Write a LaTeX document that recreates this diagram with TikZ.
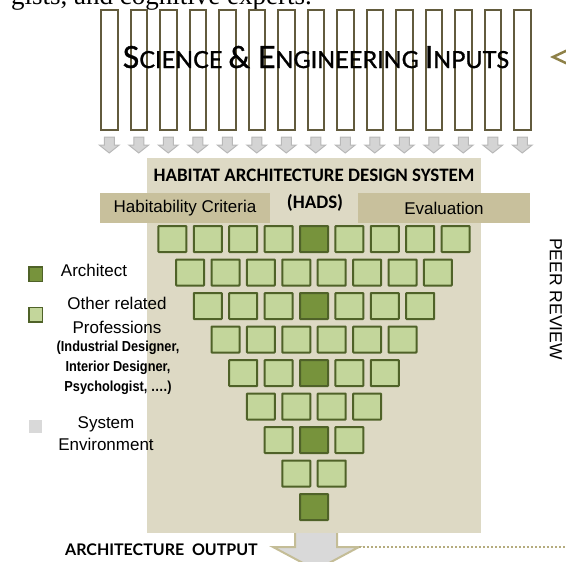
\documentclass[tikz,border=0pt]{standalone}
\usepackage{fontspec}
\usepackage{graphicx}
\setmainfont{Liberation Sans}
\newfontfamily\calibfont{Carlito}
\newfontfamily\latofont{Lato}
\newfontfamily\latoheavy[FakeBold=1.2]{Lato}
\newfontfamily\timesfont{Liberation Serif}
\definecolor{barcol}{HTML}{625B3D}
\definecolor{arrfill}{HTML}{D4D4D4}
\definecolor{arrdraw}{HTML}{B8B8B8}
\definecolor{beigecol}{HTML}{DDD9C4}
\definecolor{bandcol}{HTML}{C8C09C}
\definecolor{sqlightcol}{HTML}{C3D69B}
\definecolor{sqborder}{HTML}{4F6228}
\definecolor{sqdarkcol}{HTML}{77933C}
\definecolor{bigarrfill}{HTML}{D9D9D9}
\definecolor{bigarrdraw}{HTML}{C4BD97}
\definecolor{dotcol}{HTML}{B5AC7E}
\definecolor{olivecol}{HTML}{8E8148}
\definecolor{envcol}{HTML}{D9D9D9}
\newcommand\scBig{\fontsize{30.5}{33}\selectfont}
\newcommand\scSmall{\fontsize{23.5}{26}\selectfont}
\tikzset{
  barbox/.style={draw=barcol, fill=white, line width=2pt, minimum width=16.5pt, minimum height=120pt, inner sep=0pt},
  smallarrow/.style={fill=arrfill, draw=arrdraw, line width=1pt, line join=miter},
  lightsq/.style={draw=sqborder, fill=sqlightcol, line width=2pt, minimum width=28pt, minimum height=26pt, inner sep=0pt, rounded corners=0.6pt},
  darksq/.style={lightsq, fill=sqdarkcol},
  beigebox/.style={fill=beigecol, minimum width=334pt, minimum height=375pt, inner sep=0pt},
  bandbox/.style={fill=bandcol, minimum height=30pt, inner sep=0pt},
  legsq/.style={draw=sqborder, line width=1.5pt, minimum width=13.5pt, minimum height=14.5pt, inner sep=0pt},
  legtext/.style={font=\fontsize{17}{24}\selectfont, align=center, inner sep=0pt},
}
\begin{document}
\begin{tikzpicture}[x=1pt,y=-1pt]
\useasboundingbox (0,0) rectangle (566,562);
\clip (0,0) rectangle (566,562);
% cut text at top
\node[anchor=base west, inner sep=0pt, font=\timesfont\fontsize{27}{30}\selectfont] (toptext) at (11,5) {gists, and cognitive experts.};
% input bars
\foreach \i in {0,...,14}{
  \node[barbox] (bar\i) at (109.25+29.5*\i,70) {};
}
\foreach \i in {0,...,14}{
  \begin{scope}[shift={(bar\i.south)}]
  \draw[smallarrow] (-5,6) -- (5,6) -- (5,14) -- (10,14) -- (0,22) -- (-10,14) -- (-5,14) -- cycle;
  \end{scope}
}
\node[anchor=base, inner sep=0pt, font=\latoheavy] (sci) at (316,68) {\scBig S\scSmall CIENCE \scBig\& E\scSmall NGINEERING \scBig I\scSmall NPUTS};
% olive arrowhead at right
\coordinate (olv) at (553,57);
\draw[olivecol, line width=2.5pt, fill=white, line join=miter] (olv) -- ++(17,-8) -- ++(0,16) -- cycle;
% big output arrow (behind box)
\coordinate (outtop) at (316,528);
\draw[fill=bigarrfill, draw=bigarrdraw, line width=2pt, line join=miter]
  (outtop) ++(-21,0) -- ++(0,19) -- ++(-22,0) -- ++(43,23) -- ++(43,-23) -- ++(-22,0) -- ++(0,-19);
% main box
\node[beigebox] (hadsbox) at (314,345.5) {};
\node[bandbox, minimum width=170pt] (habband) at (185,208) {};
\node[bandbox, minimum width=172pt] (evalband) at (444,208) {};
\node[inner sep=0pt, font=\fontsize{17}{20}\selectfont] (habtext) at (habband.center) {Habitability Criteria};
\node[inner sep=0pt, font=\fontsize{17}{20}\selectfont] (evaltext) at (evalband.center) {Evaluation};
\node[inner sep=0pt, font=\calibfont\bfseries\fontsize{19}{22}\selectfont] (title) at (314,175) {HABITAT ARCHITECTURE DESIGN SYSTEM};
\node[inner sep=0pt, font=\calibfont\bfseries\fontsize{19}{22}\selectfont] (hads) at (315,203) {(HADS)};
% squares
\foreach \r in {1,...,9}{
  \pgfmathtruncatemacro\n{10-\r}
  \foreach \k in {1,...,\n}{
    \pgfmathsetmacro\cx{314+(\k-(\n+1)/2)*35.4}
    \pgfmathsetmacro\cy{239+(\r-1)*33.5}
    \pgfmathtruncatemacro\isdark{(mod(\r,2)==1) && (\k==(\n+1)/2)}
    \ifnum\isdark=1
      \node[darksq] (sq\r-\k) at (\cx,\cy) {};
    \else
      \node[lightsq] (sq\r-\k) at (\cx,\cy) {};
    \fi
  }
}
% dotted line
\coordinate (dotend) at (566,547);
\draw[dotcol, line width=2pt, dash pattern=on 2pt off 2pt] (359,547) -- (dotend);
\node[anchor=base west, inner sep=0pt, font=\latofont\bfseries\fontsize{16}{18}\selectfont] (outtext) at (65,555) {ARCHITECTURE\ \ OUTPUT};
% peer review
\node[rotate=-90, inner sep=0pt, font=\fontsize{17.5}{20}\selectfont] (peer) at (556,299) {PEER REVIEW};
% legend
\node[legsq, fill=sqdarkcol] (legarch) at (35.5,274) {};
\node[legsq, fill=sqlightcol] (legother) at (35.5,314.5) {};
\node[fill=envcol, minimum width=13pt, minimum height=13pt, inner sep=0pt] (legenv) at (35.5,426.5) {};
\node[legtext] (archtext) at (94,270) {Architect};
\node[legtext] (othertext) at (117,315) {Other related\\Professions};
\node[inner sep=0pt] (parentext) at (118,367) {\scalebox{0.88}[1]{\bfseries\fontsize{14.5}{20}\selectfont\begin{tabular}{@{}c@{}}(Industrial Designer,\\Interior Designer,\\Psychologist, \dots.)\end{tabular}}};
\node[legtext, font=\fontsize{17}{22}\selectfont] (systext) at (106,434) {System\\Environment};
\end{tikzpicture}
\end{document}
